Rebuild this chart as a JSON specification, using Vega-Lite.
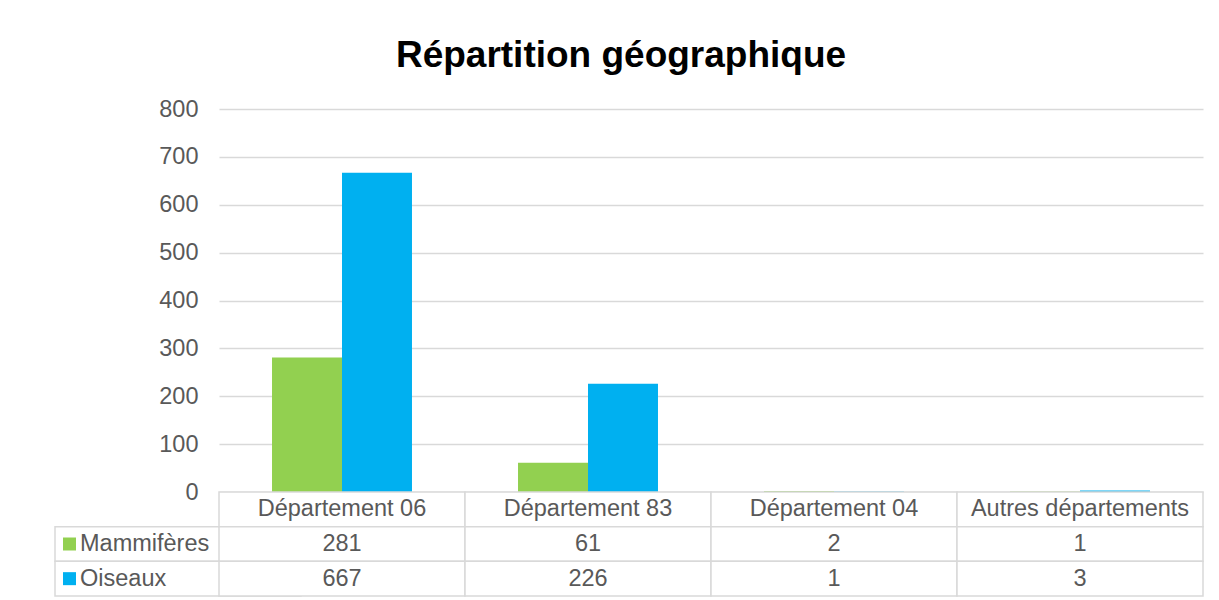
{
  "$schema": "https://vega.github.io/schema/vega-lite/v6.json",
  "padding": {"left": 54, "top": 37, "right": 15, "bottom": 3},
  "background": "white",
  "title": {"text": "Répartition géographique", "font": "Liberation Sans", "fontSize": 37, "fontWeight": "bold", "color": "#000000", "anchor": "middle", "frame": "bounds", "baseline": "alphabetic", "offset": -7, "dx": -8},
  "bounds": "flush",
  "spacing": 0,
  "datasets": {
    "bars": [
      {"cat": "Département 06", "series": "Mammifères", "value": 281},
      {"cat": "Département 06", "series": "Oiseaux", "value": 667},
      {"cat": "Département 83", "series": "Mammifères", "value": 61},
      {"cat": "Département 83", "series": "Oiseaux", "value": 226},
      {"cat": "Département 04", "series": "Mammifères", "value": 2},
      {"cat": "Département 04", "series": "Oiseaux", "value": 1},
      {"cat": "Autres départements", "series": "Mammifères", "value": 1},
      {"cat": "Autres départements", "series": "Oiseaux", "value": 3}
    ],
    "cats": [
      {"cat": "Département 06"},
      {"cat": "Département 83"},
      {"cat": "Département 04"},
      {"cat": "Autres départements"}
    ],
    "series": [
      {"series": "Mammifères"},
      {"series": "Oiseaux"}
    ]
  },
  "vconcat": [
    {
      "width": 984,
      "height": 383,
      "data": {"name": "bars"},
      "mark": {"type": "bar"},
      "encoding": {
        "x": {"field": "cat", "type": "nominal", "scale": {"domain": ["Département 06", "Département 83", "Département 04", "Autres départements"], "paddingInner": 0.431, "paddingOuter": 0.2155}, "axis": null},
        "xOffset": {"field": "series", "type": "nominal", "scale": {"domain": ["Mammifères", "Oiseaux"], "paddingInner": 0, "paddingOuter": 0}},
        "y": {"field": "value", "type": "quantitative", "scale": {"domain": [0, 800], "nice": false}, "axis": {"values": [0, 100, 200, 300, 400, 500, 600, 700, 800], "title": null, "domain": false, "ticks": false, "grid": true, "gridColor": "#d9d9d9", "gridWidth": 1.5, "labelFont": "Liberation Sans", "labelFontSize": 23.5, "labelColor": "#595959", "labelPadding": 21}},
        "color": {"field": "series", "type": "nominal", "scale": {"domain": ["Mammifères", "Oiseaux"], "range": ["#92d050", "#00b0f0"]}, "legend": null}
      }
    },
    {
      "width": 984,
      "height": 104,
      "layer": [
        {
          "data": {"name": "series"},
          "mark": {"type": "rect", "fill": "white", "stroke": "#d9d9d9", "strokeWidth": 1.5, "xOffset": -164},
          "encoding": {
            "x": {"datum": "Département 06", "type": "nominal", "scale": {"domain": ["Département 06", "Département 83", "Département 04", "Autres départements"], "paddingInner": 0, "paddingOuter": 0}, "axis": null},
            "y": {"field": "series", "type": "nominal", "scale": {"domain": ["Catégorie", "Mammifères", "Oiseaux"], "paddingInner": 0, "paddingOuter": 0}, "axis": null}
          }
        },
        {
          "data": {"name": "cats"},
          "mark": {"type": "rect", "fill": "white", "stroke": "#d9d9d9", "strokeWidth": 1.5},
          "encoding": {
            "x": {"field": "cat", "type": "nominal"},
            "y": {"datum": "Catégorie", "type": "nominal"}
          }
        },
        {
          "data": {"name": "bars"},
          "mark": {"type": "rect", "fill": "white", "stroke": "#d9d9d9", "strokeWidth": 1.5},
          "encoding": {
            "x": {"field": "cat", "type": "nominal"},
            "y": {"field": "series", "type": "nominal"}
          }
        },
        {
          "data": {"name": "cats"},
          "mark": {"type": "text", "font": "Liberation Sans", "fontSize": 23.5, "color": "#595959"},
          "encoding": {
            "x": {"field": "cat", "type": "nominal"},
            "y": {"datum": "Catégorie", "type": "nominal"},
            "text": {"field": "cat"}
          }
        },
        {
          "data": {"name": "bars"},
          "mark": {"type": "text", "font": "Liberation Sans", "fontSize": 23.5, "color": "#595959"},
          "encoding": {
            "x": {"field": "cat", "type": "nominal"},
            "y": {"field": "series", "type": "nominal"},
            "text": {"field": "value", "type": "quantitative"}
          }
        },
        {
          "data": {"name": "series"},
          "mark": {"type": "point", "shape": "square", "filled": true, "opacity": 1, "size": 169, "xOffset": -272.5},
          "encoding": {
            "x": {"datum": "Département 06", "type": "nominal"},
            "y": {"field": "series", "type": "nominal"},
            "color": {"field": "series", "type": "nominal", "scale": {"domain": ["Mammifères", "Oiseaux"], "range": ["#92d050", "#00b0f0"]}, "legend": null}
          }
        },
        {
          "data": {"name": "series"},
          "mark": {"type": "text", "font": "Liberation Sans", "fontSize": 23.5, "color": "#595959", "align": "left", "dx": -262},
          "encoding": {
            "x": {"datum": "Département 06", "type": "nominal"},
            "y": {"field": "series", "type": "nominal"},
            "text": {"field": "series"}
          }
        }
      ]
    }
  ],
  "resolve": {"scale": {"x": "independent", "y": "independent"}},
  "config": {"view": {"stroke": null}, "font": "Liberation Sans"}
}
